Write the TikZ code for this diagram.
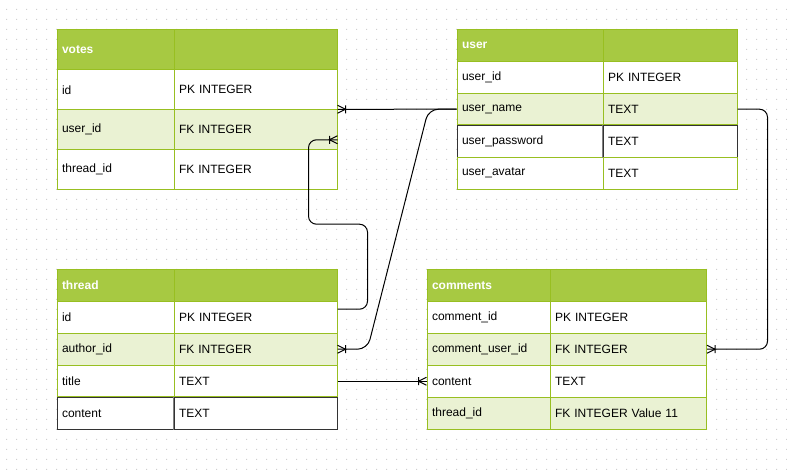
\documentclass[tikz,border=0pt]{standalone}
\usepackage{fontspec}
\setmainfont{Liberation Sans}
\usepackage{tikz}

\definecolor{erhead}{HTML}{A7C942}
\definecolor{erline}{HTML}{98BF21}
\definecolor{erlight}{HTML}{EAF2D3}
\definecolor{erdark}{HTML}{333333}
\definecolor{dotgray}{HTML}{CFCFCF}

\pgfdeclarearrow{
	name = Crow,
	setup code = {
		\pgfarrowssettipend{0pt}
		\pgfarrowssetlineend{0pt}
		\pgfarrowssetbackend{-8pt}
		\pgfarrowsupperhullpoint{-8pt}{4pt}
		\pgfarrowsupperhullpoint{0pt}{4pt}
	},
	drawing code = {
		\pgfsetdash{}{0pt}
		\pgfpathmoveto{\pgfpoint{0pt}{4pt}}
		\pgfpathlineto{\pgfpoint{-8pt}{0pt}}
		\pgfpathlineto{\pgfpoint{0pt}{-4pt}}
		\pgfpathmoveto{\pgfpoint{-8pt}{4pt}}
		\pgfpathlineto{\pgfpoint{-8pt}{-4pt}}
		\pgfusepathqstroke
	}
}

\tikzstyle{cell}=[
	draw=erline,
	fill=white,
	line width=1pt,
	anchor=north west,
	inner xsep=5pt,
	inner ysep=0pt,
	align=left,
	font=\fontsize{12}{14}\selectfont
]
\tikzstyle{headrow}=[
	fill=erhead,
	text=white,
	font=\fontsize{12}{14}\selectfont\bfseries
]
\tikzstyle{plainrow}=[fill=white]
\tikzstyle{greenrow}=[fill=erlight]
\tikzstyle{darkrow}=[fill=white, draw=erdark]
\tikzstyle{conn}=[
	-Crow,
	draw=black,
	line width=1pt
]

\begin{document}
\begin{tikzpicture}[x=1pt, y=-1pt]
\useasboundingbox (0,0) rectangle (787,470);

% grid
\fill[dotgray] \foreach \i in {0,...,78}{
    \foreach \j in {0,...,46}{
        (6.2+10*\i, 8.8+10*\j) rectangle ++(1,1)
    }
};

% votes
\node[cell, headrow, minimum width=117pt, minimum height=40pt, text width=107pt] (votes-h) at (56.5,29.3) {votes};
\node[cell, headrow, minimum width=163pt, minimum height=40pt, text width=153pt] (votes-h-t) at (173.5,29.3) {};
\foreach \n/\a/\b/\s [count=\i from 0] in {id/id/PK INTEGER/plainrow, userid/user\_id/FK INTEGER/greenrow, threadid/thread\_id/FK INTEGER/plainrow}{
    \node[cell, \s, minimum width=117pt, minimum height=40pt, text width=107pt] (votes-\n) at (56.5,69.3+40*\i) {\a};
    \node[cell, \s, minimum width=163pt, minimum height=40pt, text width=153pt] (votes-\n-t) at (173.5,69.3+40*\i) {\b};
}

% user
\node[cell, headrow, minimum width=146pt, minimum height=31.4pt, text width=136pt] (user-h) at (456.5,29.3) {user};
\node[cell, headrow, minimum width=134pt, minimum height=31.4pt, text width=124pt] (user-h-t) at (602.5,29.3) {};
\foreach \n/\a/\b/\s [count=\i from 0] in {id/user\_id/PK INTEGER/plainrow, name/user\_name/TEXT/greenrow, pass/user\_password/TEXT/darkrow, avatar/user\_avatar/TEXT/plainrow}{
    \node[cell, \s, minimum width=146pt, minimum height=32pt, text width=136pt] (user-\n) at (456.5,60.7+32*\i) {\a};
    \node[cell, \s, minimum width=134pt, minimum height=32pt, text width=124pt] (user-\n-t) at (602.5,60.7+32*\i) {\b};
}

% thread
\node[cell, headrow, minimum width=117pt, minimum height=31.4pt, text width=107pt] (thread-h) at (56.5,269.3) {thread};
\node[cell, headrow, minimum width=163pt, minimum height=31.4pt, text width=153pt] (thread-h-t) at (173.5,269.3) {};
\foreach \n/\a/\b/\s [count=\i from 0] in {id/id/PK INTEGER/plainrow, author/author\_id/FK INTEGER/greenrow, title/title/TEXT/plainrow, content/content/TEXT/darkrow}{
    \node[cell, \s, minimum width=117pt, minimum height=32pt, text width=107pt] (thread-\n) at (56.5,300.7+32*\i) {\a};
    \node[cell, \s, minimum width=163pt, minimum height=32pt, text width=153pt] (thread-\n-t) at (173.5,300.7+32*\i) {\b};
}

% comments
\node[cell, headrow, minimum width=123pt, minimum height=31.4pt, text width=113pt] (comments-h) at (426.5,269.3) {comments};
\node[cell, headrow, minimum width=156.5pt, minimum height=31.4pt, text width=146.5pt] (comments-h-t) at (549.5,269.3) {};
\foreach \n/\a/\b/\s [count=\i from 0] in {id/comment\_id/PK INTEGER/plainrow, cuser/comment\_user\_id/FK INTEGER/greenrow, content/content/TEXT/plainrow, threadid/thread\_id/FK INTEGER Value 11/greenrow}{
    \node[cell, \s, minimum width=123pt, minimum height=32pt, text width=113pt] (comments-\n) at (426.5,300.7+32*\i) {\a};
    \node[cell, \s, minimum width=156.5pt, minimum height=32pt, text width=146.5pt] (comments-\n-t) at (549.5,300.7+32*\i) {\b};
}

% dark rows: green top, grey divider
\draw[erline, line width=1pt] (user-pass.north west) -- (user-pass-t.north east);
\draw[erline, line width=1pt] (thread-content.north west) -- (thread-content-t.north east);
\draw[gray, line width=1pt] (user-pass-t.north west) -- (user-pass-t.south west);
\draw[gray, line width=1pt] (thread-content-t.north west) -- (thread-content-t.south west);

% relations
\draw[conn] (user-name.west) -- (votes-userid-t.north east);
\draw[conn, rounded corners=10pt] (user-name.west) -- ++(-28,0) -- ([xshift=30pt]thread-author-t.east) -- (thread-author-t.east);
\draw[conn, rounded corners=8pt] ([yshift=8pt]thread-id-t.east) -- ++(30,0) -- ++(0,-85) -- ++(-59,0) |- ([yshift=-10pt]votes-userid-t.east);
\draw[conn, rounded corners=8pt] (user-name-t.east) -- ++(30,0) |- (comments-cuser-t.east);
\draw[conn] (thread-title-t.east) -- (comments-content.west);

\end{tikzpicture}
\end{document}
